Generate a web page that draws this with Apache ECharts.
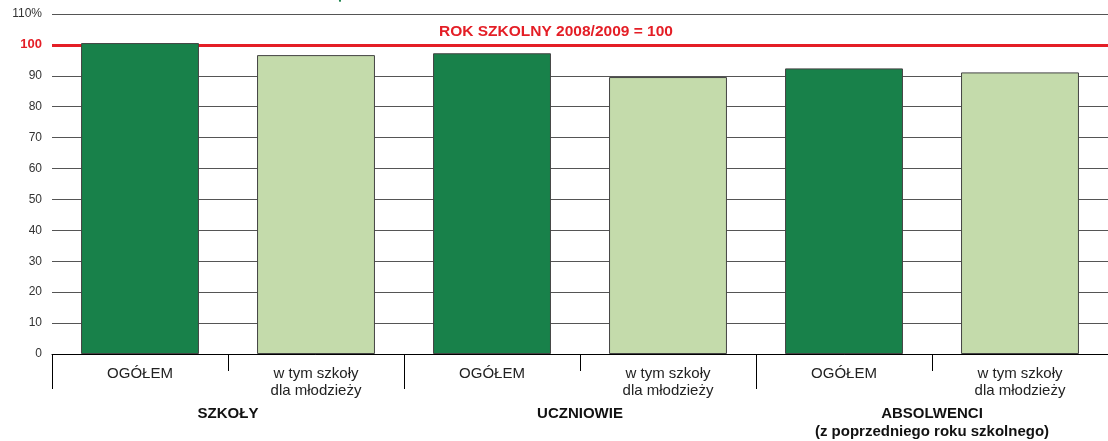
<!DOCTYPE html>
<html>
<head>
<meta charset="utf-8">
<script src="https://cdn.jsdelivr.net/npm/echarts@6/dist/echarts.min.js"></script>
<style>
    html, body { margin: 0; padding: 0; background: #fff; }
    #chart { width: 1108px; height: 441px; }
</style>
</head>
<body>
<div id="chart"></div>
<script>
    // kategorie i wartości (rok szkolny 2008/2009 = 100)
    const categories = ['OGÓŁEM', 'w tym szkoły\ndla młodzieży', 'OGÓŁEM', 'w tym szkoły\ndla młodzieży', 'OGÓŁEM', 'w tym szkoły\ndla młodzieży'];
    const values = [100.6, 96.7, 97.3, 89.6, 92.4, 91.1];
    const groups = ['SZKOŁY', 'UCZNIOWIE', 'ABSOLWENCI\n(z poprzedniego roku szkolnego)'];
    const baseLine = 100;
    const baseTitle = 'ROK SZKOLNY 2008/2009 = 100';

    const font = 'Arial, "Liberation Sans", sans-serif';
    const dark = '#18814a';
    const light = '#c4dbab';

    const chart = echarts.init(document.getElementById('chart'));
    chart.setOption({
        animation: false,
        textStyle: { fontFamily: font },
        grid: { left: 52, right: 0, top: 14, bottom: 87, containLabel: false, outerBoundsMode: 'none' },
        xAxis: [{
            type: 'category',
            data: categories,
            axisLine: { lineStyle: { color: '#000', width: 1 } },
            axisTick: { show: true, length: 17, lineStyle: { color: '#000' } },
            axisLabel: {
                interval: 0, margin: 11, fontSize: 15, lineHeight: 17,
                color: '#222', verticalAlign: 'top', fontFamily: font
            }
        }, {
            type: 'category',
            data: groups,
            position: 'bottom',
            axisLine: { show: false },
            axisTick: { show: true, length: 35, lineStyle: { color: '#000' } },
            axisLabel: {
                interval: 0, margin: 51, fontSize: 15, lineHeight: 18,
                fontWeight: 'bold', color: '#111', verticalAlign: 'top', fontFamily: font
            }
        }],
        yAxis: {
            type: 'value',
            min: 0,
            max: 110,
            interval: 10,
            axisLine: { show: false },
            axisTick: { show: false },
            splitLine: { lineStyle: { color: '#555', width: 1 } },
            axisLabel: {
                margin: 10, fontSize: 12, color: '#333', fontFamily: font,
                formatter: function (v) {
                    if (v === 110) return '110%';
                    if (v === baseLine) return '{r|' + v + '}';
                    return v;
                },
                rich: { r: { color: '#e41e26', fontWeight: 'bold', fontSize: 13, fontFamily: font } }
            }
        },
        series: [{
            type: 'bar',
            data: values,
            barWidth: '67%',
            z: 3,
            itemStyle: {
                color: function (p) { return p.dataIndex % 2 === 0 ? dark : light; },
                borderColor: '#444',
                borderWidth: 1
            },
            markLine: {
                silent: true,
                z: 1,
                symbol: 'none',
                label: { show: false },
                lineStyle: { color: '#e41e26', width: 3, type: 'solid' },
                data: [{ yAxis: baseLine }]
            }
        }],
        graphic: [{
            type: 'text',
            left: 439,
            top: 24,
            style: { text: baseTitle, fill: '#e41e26', font: 'bold 15.5px ' + font }
        }, {
            type: 'text',
            left: 335,
            top: -12,
            style: { text: '√', fill: '#18814a', font: '18px ' + font }
        }]
    });
</script>
</body>
</html>
